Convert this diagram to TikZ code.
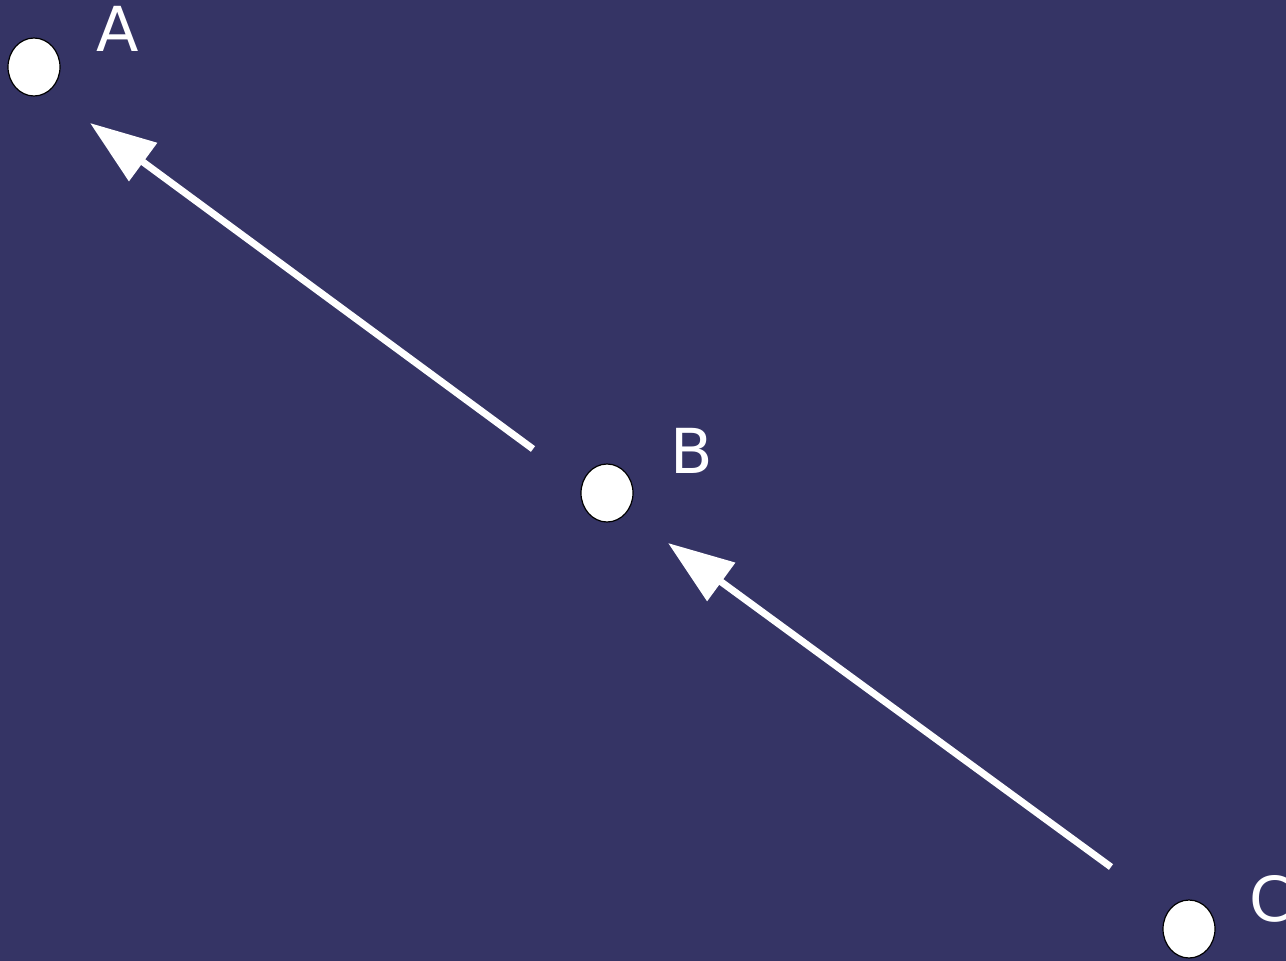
\documentclass[tikz,border=0pt]{standalone}
\usepackage{fontspec}
\setmainfont{DejaVu Sans}
\usetikzlibrary{shapes.geometric,arrows.meta}
\definecolor{bgblue}{RGB}{53,52,101}
\tikzset{
  pointdot/.style={ellipse, draw=black, line width=1.2pt, fill=white, minimum width=52pt, minimum height=58pt, inner sep=0pt},
  ptlabel/.style={text=white, font=\fontsize{62}{62}\selectfont, inner sep=0pt},
  bigarrow/.style={draw=white, line width=7pt, -{Triangle[length=66pt,width=46pt]}}
}
\begin{document}
\begin{tikzpicture}[x=1pt,y=-1pt]
\fill[bgblue] (0,0) rectangle (1286,961);
\useasboundingbox (0,0) rectangle (1286,961);
\node[pointdot] (A) at (34,67) {};
\node[pointdot] (B) at (607,493) {};
\node[pointdot] (C) at (1189,929) {};
\node[ptlabel] (lA) at (117.5,28.5) {A};
\node[ptlabel] (lB) at (691.5,450.5) {B};
\node[ptlabel, anchor=west] (lC) at (1249,898.5) {C};
\coordinate (c1s) at (1111,867);
\coordinate (c1e) at (668,543);
\coordinate (c2s) at (533,449);
\coordinate (c2e) at (90,123);
\draw[bigarrow] (c1s) -- (c1e);
\draw[bigarrow] (c2s) -- (c2e);
\end{tikzpicture}
\end{document}
